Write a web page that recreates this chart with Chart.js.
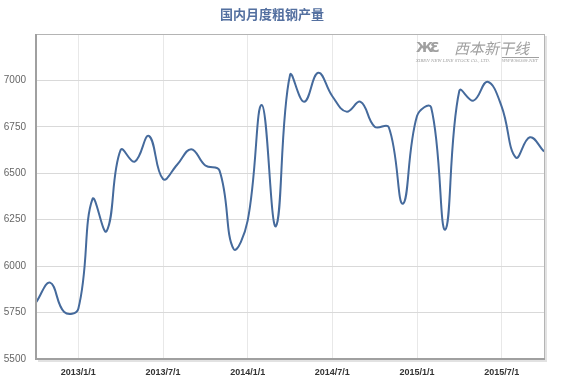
<!DOCTYPE html>
<html><head><meta charset="utf-8">
<script src="https://cdn.jsdelivr.net/npm/chart.js@4/dist/chart.umd.min.js"></script>
<style>html,body{margin:0;padding:0;background:#fff}#wrap{width:561px;height:383px}</style>
</head><body><div id="wrap"><canvas id="c" width="561" height="383"></canvas></div>
<script>
const months = ["2012/10/1","2012/11/1","2012/12/1","2013/1/1","2013/2/1","2013/3/1","2013/4/1","2013/5/1","2013/6/1","2013/7/1","2013/8/1","2013/9/1","2013/10/1","2013/11/1","2013/12/1","2014/1/1","2014/2/1","2014/3/1","2014/4/1","2014/5/1","2014/6/1","2014/7/1","2014/8/1","2014/9/1","2014/10/1","2014/11/1","2014/12/1","2015/1/1","2015/2/1","2015/3/1","2015/4/1","2015/5/1","2015/6/1","2015/7/1","2015/8/1","2015/9/1","2015/10/1"];
const output = [5804,5911,5753,5771,6361,6188,6626,6563,6701,6469,6546,6630,6542,6516,6093,6245,6868,6215,7028,6885,7041,6915,6832,6885,6751,6748,6336,6808,6855,6197,6944,6891,6993,6859,6585,6694,6617];
const xTickLabels = ["2013/1/1","2013/7/1","2014/1/1","2014/7/1","2015/1/1","2015/7/1"];
const yTicks = [5500,5750,6000,6250,6500,6750,7000];
const title = "国内月度粗钢产量";
const watermark = "西本新干线";

const frame = {
  id: 'frame',
  afterDatasetsDraw(chart) {
    const a = chart.chartArea, c = chart.ctx;
    c.save();
    // watermark
    c.fillStyle = '#a0a0a0';
    c.textBaseline = 'middle';
    c.textAlign = 'left';
    c.font = 'italic 15px "Noto Sans CJK SC"';
    c.fillText(watermark, a.right - 90, a.top + 14);
    c.font = 'bold 14px "DejaVu Sans"';
    c.fillText('Ж', a.right - 128, a.top + 14);
    c.fillText('Ɛ', a.right - 114, a.top + 14);
    c.font = 'italic 4px "DejaVu Serif"';
    c.fillText('XIBEN NEW LINE STOCK CO., LTD.', a.right - 128, a.top + 27);
    c.fillText('WWW.96369.NET', a.right - 42, a.top + 27);
    c.strokeStyle = '#a0a0a0'; c.lineWidth = 1;
    c.beginPath(); c.moveTo(a.right - 42, a.top + 23.5); c.lineTo(a.right - 5, a.top + 23.5); c.stroke();
    // frame
    c.strokeStyle = '#e2e2e2'; c.lineWidth = 2;
    c.beginPath(); c.moveTo(a.right + 2, a.top + 2); c.lineTo(a.right + 2, a.bottom + 2); c.lineTo(a.left + 2, a.bottom + 2); c.stroke();
    c.strokeStyle = '#b4b4b4'; c.lineWidth = 1;
    c.strokeRect(a.left + 0.5, a.top + 0.5, a.right - a.left, a.bottom - a.top);
    c.strokeStyle = '#a0a0a0'; c.lineWidth = 2;
    c.beginPath(); c.moveTo(a.left, a.top); c.lineTo(a.left, a.bottom); c.lineTo(a.right + 1, a.bottom); c.stroke();
    c.restore();
  }
};

new Chart(document.getElementById('c'), {
  type: 'line',
  data: {
    labels: months,
    datasets: [{
      data: output,
      borderColor: '#456a9c',
      borderWidth: 2,
      pointRadius: 0,
      tension: 0.42,
      fill: false
    }]
  },
  options: {
    responsive: false,
    animation: false,
    devicePixelRatio: 1,
    layout: { padding: { left: 0, right: 17, top: 0, bottom: 0 } },
    plugins: {
      legend: { display: false },
      tooltip: { enabled: false },
      title: {
        display: true,
        text: title,
        color: '#5470a0',
        font: { family: '"Noto Sans CJK SC"', size: 13, weight: 'bold' },
        padding: { top: 6, bottom: 12.4 }
      }
    },
    scales: {
      x: {
        type: 'category',
        offset: false,
        afterFit(s) { s.height = 24; },
        border: { display: false },
        grid: {
          drawTicks: false,
          color: ctx => (ctx.tick && xTickLabels.includes(months[ctx.index])) ? '#e8e8e8' : 'rgba(0,0,0,0)'
        },
        ticks: {
          autoSkip: false,
          maxRotation: 0,
          padding: 8,
          color: '#333',
          font: { family: '"Liberation Sans"', size: 9, weight: 'bold' },
          callback(v, i) { const l = months[i]; return xTickLabels.includes(l) ? l : ''; }
        }
      },
      y: {
        min: 5500,
        max: 7250,
        afterFit(s) { s.width = 36; },
        afterBuildTicks(s) { s.ticks = yTicks.concat([7250]).map(v => ({ value: v })); },
        border: { display: false },
        grid: { drawTicks: false, color: ctx => ctx.tick && ctx.tick.value === 7250 ? 'rgba(0,0,0,0)' : '#d9d9d9' },
        ticks: {
          padding: 10,
          color: '#666',
          font: { family: '"Liberation Sans"', size: 10 },
          callback: v => yTicks.includes(v) ? String(v) : ''
        }
      }
    }
  },
  plugins: [frame]
});
</script></body></html>
